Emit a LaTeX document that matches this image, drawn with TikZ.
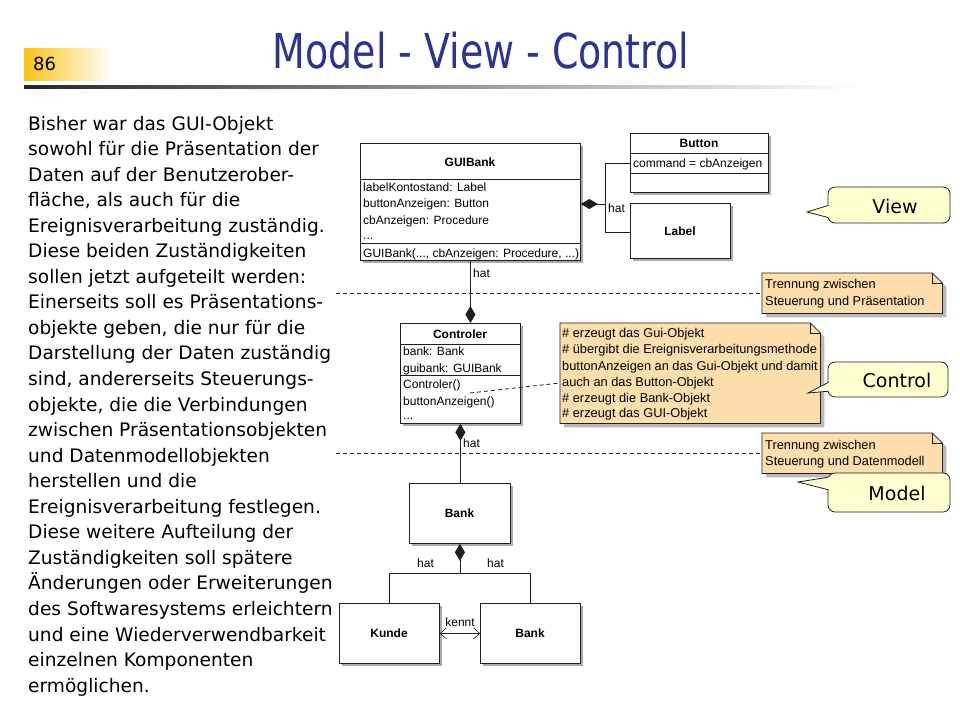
\documentclass[tikz,border=0pt]{standalone}
\usepackage{fontspec}
\setmainfont{DejaVu Sans}
\newfontfamily\umlfont{Liberation Sans}
\newfontfamily\titlefont[FakeStretch=0.79]{DejaVu Sans}
\usetikzlibrary{arrows.meta,shadows}
\definecolor{titleblue}{RGB}{45,50,150}
\definecolor{gold}{RGB}{250,195,20}
\definecolor{notefill}{RGB}{255,222,173}
\definecolor{calloutfill}{RGB}{255,255,208}
\definecolor{linecol}{RGB}{30,30,30}
\newcommand{\mynote}[1]{%
  \fill[black!45, opacity=0.6] ([xshift=4pt,yshift=-4pt]#1.north west) -- ([xshift=-6pt,yshift=-4pt]#1.north east) -- ([xshift=4pt,yshift=-14pt]#1.north east) -- ([xshift=4pt,yshift=-4pt]#1.south east) -- ([xshift=4pt,yshift=-4pt]#1.south west) -- cycle;
  \filldraw[draw=linecol, line width=0.7pt, fill=notefill] (#1.north west) -- ([xshift=-10pt]#1.north east) -- ([yshift=-10pt]#1.north east) -- (#1.south east) -- (#1.south west) -- cycle;
  \draw[linecol, line width=0.7pt] ([xshift=-10pt]#1.north east) -- ([xshift=-10pt,yshift=-10pt]#1.north east) -- ([yshift=-10pt]#1.north east);%
}
\begin{document}
\begin{tikzpicture}[x=1pt,y=-1pt,
  umlbox/.style={draw=linecol, line width=0.8pt, fill=white, inner sep=0pt, anchor=north west, drop shadow={shadow xshift=3pt, shadow yshift=-3pt, fill=black!55, opacity=0.6}},
  sep/.style={draw=linecol, line width=0.8pt},
  utext/.style={font=\umlfont\fontsize{12}{14}\selectfont, inner sep=0pt, anchor=base west},
  utitle/.style={font=\umlfont\bfseries\fontsize{12}{14}\selectfont, inner sep=0pt, anchor=base},
  ntext/.style={font=\umlfont\fontsize{12.8}{14}\selectfont, inner sep=0pt, anchor=base west},
  conn/.style={draw=linecol, line width=0.8pt},
  comp/.style={conn, -{Diamond[length=17pt,width=10pt]}},
  notebox/.style={inner sep=0pt, anchor=north west},
  sepline/.style={draw=linecol, line width=0.8pt, dash pattern=on 4pt off 3pt},
  callout/.style={draw=linecol, line width=0.8pt, fill=calloutfill},
  ctext/.style={font=\fontsize{19}{22}\selectfont, inner sep=0pt},
  body/.style={font=\fontsize{18.6}{25}\selectfont, inner sep=0pt, anchor=base west},
]
\useasboundingbox (0,0) rectangle (960,720);
\fill[white] (0,0) rectangle (960,720);

% header
\shade[left color=gold, right color=white] (24,48) rectangle (112,80);
\node[font=\fontsize{18}{20}\selectfont, anchor=base west, inner sep=0pt] (pnum) at (33,70) {86};
\shade[left color=black!85, right color=white] (24,85) rectangle (860,88);
\node[font=\titlefont\fontsize{48}{52}\selectfont, text=titleblue, anchor=base, inner sep=0pt] (title) at (481,68) {Model - View - Control};

% body text
\foreach \txt [count=\i from 0] in {
  {Bisher war das GUI-Objekt},
  {sowohl für die Präsentation der},
  {Daten auf der Benutzerober-},
  {fläche, als auch für die},
  {Ereignisverarbeitung zuständig.},
  {Diese beiden Zuständigkeiten},
  {sollen jetzt aufgeteilt werden:},
  {Einerseits soll es Präsentations-},
  {objekte geben, die nur für die},
  {Darstellung der Daten zuständig},
  {sind, andererseits Steuerungs-},
  {objekte, die die Verbindungen},
  {zwischen Präsentationsobjekten},
  {und Datenmodellobjekten},
  {herstellen und die},
  {Ereignisverarbeitung festlegen.},
  {Diese weitere Aufteilung der},
  {Zuständigkeiten soll spätere},
  {Änderungen oder Erweiterungen},
  {des Softwaresystems erleichtern},
  {und eine Wiederverwendbarkeit},
  {einzelnen Komponenten},
  {ermöglichen.}}
  \node[body] (body\i) at (28,{130+25.55*\i}) {\txt};

% notes and separators
\node[notebox, minimum width=180pt, minimum height=40pt] (n1) at (762,273) {};
\mynote{n1}
\node[ntext] (n1a) at (765,288) {Trennung zwischen};
\node[ntext] (n1b) at (765,305) {Steuerung und Präsentation};
\coordinate (d1) at (336,293);
\draw[sepline] (d1) -- (d1 -| n1.west);

\node[notebox, minimum width=260pt, minimum height=100pt] (n2) at (560,323) {};
\mynote{n2}
\node[ntext] (n2a) at (562,337) {\# erzeugt das Gui-Objekt};
\node[ntext] (n2b) at (562,353) {\# übergibt die Ereignisverarbeitungsmethode};
\node[ntext] (n2c) at (562,370) {buttonAnzeigen an das Gui-Objekt und damit};
\node[ntext] (n2d) at (562,386) {auch an das Button-Objekt};
\node[ntext] (n2e) at (562,402) {\# erzeugt die Bank-Objekt};
\node[ntext] (n2f) at (562,417) {\# erzeugt das GUI-Objekt};

\node[notebox, minimum width=180pt, minimum height=40pt] (n3) at (762,433) {};
\mynote{n3}
\node[ntext] (n3a) at (765,449) {Trennung zwischen};
\node[ntext] (n3b) at (765,465) {Steuerung und Datenmodell};
\coordinate (d2) at (336,453);
\draw[sepline] (d2) -- (d2 -| n3.west);

% GUIBank
\node[umlbox, minimum width=220pt, minimum height=117pt] (guibank) at (360,143) {};
\draw[sep] ([yshift=-36pt]guibank.north west) -- ([yshift=-36pt]guibank.north east);
\draw[sep] ([yshift=-100pt]guibank.north west) -- ([yshift=-100pt]guibank.north east);
\node[utitle] (guibankT) at (470,166) {GUIBank};
\node[utext] (g1) at (363,191) {labelKontostand: Label};
\node[utext] (g2) at (363,207.5) {buttonAnzeigen: Button};
\node[utext] (g3) at (363,224) {cbAnzeigen: Procedure};
\node[utext] (g4) at (363,239) {...};
\node[utext] (g5) at (363,257) {GUIBank(..., cbAnzeigen: Procedure, ...)};

% Button
\node[umlbox, minimum width=138pt, minimum height=59pt] (button) at (630,133) {};
\draw[sep] ([yshift=-20pt]button.north west) -- ([yshift=-20pt]button.north east);
\draw[sep] ([yshift=-40pt]button.north west) -- ([yshift=-40pt]button.north east);
\node[utitle] (buttonT) at (699,147.5) {Button};
\node[utext] (b1) at (633,167.5) {command = cbAnzeigen};

% Label
\node[umlbox, minimum width=100pt, minimum height=55pt] (label) at (630,203) {};
\node[utitle] (labelT) at (680,235) {Label};

% GUIBank composition
\coordinate (jv) at (605,204);
\draw[comp] ([yshift=-30pt]button.north west) -| (jv) -- (guibank.east |- jv);
\draw[conn] ([yshift=-29pt]label.north west) -| (jv);
\node[utext] (hat1) at (608,212) {hat};

% Controler
\node[umlbox, minimum width=120pt, minimum height=100pt] (ctrl) at (400,323) {};
\draw[sep] ([yshift=-21pt]ctrl.north west) -- ([yshift=-21pt]ctrl.north east);
\draw[sep] ([yshift=-52pt]ctrl.north west) -- ([yshift=-52pt]ctrl.north east);
\node[utitle] (ctrlT) at (460,338) {Controler};
\node[utext] (c1) at (403,355) {bank: Bank};
\node[utext] (c2) at (403,372) {guibank: GUIBank};
\node[utext] (c3) at (403,388) {Controler()};
\node[utext] (c4) at (403,405) {buttonAnzeigen()};
\node[utext] (c5) at (403,419) {...};
\draw[comp] (guibank.south) -- (guibank.south |- ctrl.north);
\node[utext] (hat2) at (473,277) {hat};

\coordinate (ca) at (470,393);
\draw[sepline] (ca) -- ([yshift=-60pt]n2.north west);

% Bank
\node[umlbox, minimum width=101pt, minimum height=60pt] (bank) at (409,483) {};
\node[utitle] (bankT) at (459.5,517) {Bank};
\draw[comp] (ctrl.south |- bank.north) -- (ctrl.south);
\node[utext] (hat3) at (463,447) {hat};

% Kunde, Bank
\node[umlbox, minimum width=100pt, minimum height=60pt] (kunde) at (339,603) {};
\node[utitle] (kundeT) at (389,637) {Kunde};
\node[umlbox, minimum width=100pt, minimum height=60pt] (bank2) at (480,603) {};
\node[utitle] (bank2T) at (530,637) {Bank};
\coordinate (jb) at ([yshift=-30pt]bank.south);
\draw[comp] (kunde.north) |- (jb) -- (bank.south);
\draw[conn] (bank2.north) |- (jb);
\node[utext] (hat4) at (417,567) {hat};
\node[utext] (hat5) at (487,567) {hat};
\draw[conn, line width=0.6pt, {Straight Barb[length=6pt,width=11pt]}-{Straight Barb[length=6pt,width=11pt]}] (kunde.east) -- (bank2.west);
\node[utext, anchor=base] (kennt) at (460,626) {kennt};

% callouts
\filldraw[callout, rounded corners=7pt] (828,187) rectangle (950,223);
\fill[calloutfill] (829.5,205) -- (807,212) -- (829.5,218) -- cycle;
\draw[linecol, line width=0.8pt, line join=miter] (828.4,205.4) -- (807,212) -- (828.4,217.6);
\node[ctext] (view) at (895,206) {View};

\filldraw[callout, rounded corners=7pt] (828,362) rectangle (948,397);
\fill[calloutfill] (829.5,382) -- (808,393) -- (829.5,391) -- cycle;
\draw[linecol, line width=0.8pt, line join=miter] (828.4,382.4) -- (808,393) -- (828.4,391.2);
\node[ctext] (control) at (897,380) {Control};

\filldraw[callout, rounded corners=7pt] (828,473) rectangle (950,512);
\fill[calloutfill] (829.5,477) -- (798,482) -- (829.5,490) -- cycle;
\draw[linecol, line width=0.8pt, line join=miter] (828.4,477.2) -- (798,482) -- (828.4,489.8);
\node[ctext] (model) at (897,493) {Model};
\end{tikzpicture}
\end{document}
